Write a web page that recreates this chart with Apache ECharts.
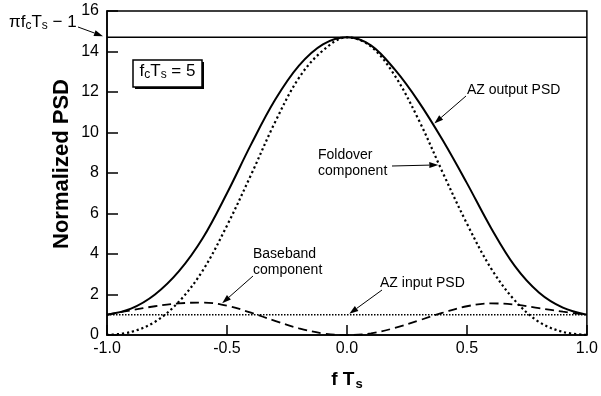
<!DOCTYPE html>
<html>
<head>
<meta charset="utf-8">
<script src="https://cdn.jsdelivr.net/npm/echarts@6/dist/echarts.min.js"></script>
<style>
  html, body { margin: 0; background: #fff; }
  #main { width: 601px; height: 396px; }
</style>
</head>
<body>
<div id="main"></div>
<script>
// f*Ts sample points
const fTs = [-1.0, -0.9, -0.8, -0.7, -0.6, -0.5, -0.4, -0.3, -0.2, -0.1, 0.0,
             0.1, 0.2, 0.3, 0.4, 0.5, 0.6, 0.7, 0.8, 0.9, 1.0];
// AZ output PSD (solid)
const outputPsd = [1.0, 1.3, 2.0, 3.15, 4.8, 7.0, 9.4, 11.6, 13.3, 14.35, 14.7,
                   14.3, 13.1, 11.5, 9.6, 7.5, 5.3, 3.4, 2.1, 1.35, 1.0];
// Foldover component (dotted)
const foldover = [0, 0.15, 0.65, 1.65, 3.2, 5.4, 7.9, 10.5, 12.7, 14.05, 14.7,
                  14.25, 12.8, 10.6, 8.0, 5.5, 3.3, 1.7, 0.65, 0.15, 0];
// Baseband component (dashed)
const baseband = [1.0, 1.22, 1.42, 1.56, 1.6, 1.45, 1.1, 0.7, 0.33, 0.08, 0,
                  0.08, 0.35, 0.72, 1.1, 1.42, 1.56, 1.5, 1.33, 1.15, 1.0];
// AZ input PSD (fine dotted, flat)
const inputX = [-1.0, 1.0];
const inputPsd = [1, 1];

const fcTs = 5;
const limitLevel = Math.PI * fcTs - 1;

const xTicks = [-1.0, -0.5, 0.0, 0.5, 1.0];
const yTicks = [0, 2, 4, 6, 8, 10, 12, 14, 16];

const FONT = 'Liberation Sans, Arial, Helvetica, sans-serif';
const pair = (xs, ys) => xs.map((x, i) => [x, ys[i]]);

const chart = echarts.init(document.getElementById('main'), null, { renderer: 'canvas' });

const option = {
  animation: false,
  grid: {
    left: 107, right: 10, top: 11, bottom: 60,
    show: true, borderColor: '#000', borderWidth: 1.5, backgroundColor: 'transparent'
  },
  xAxis: {
    type: 'value', min: xTicks[0], max: xTicks[xTicks.length - 1], interval: 0.5,
    axisLine: { onZero: false, lineStyle: { color: '#000', width: 1.5 } },
    axisTick: { inside: true, length: 10, lineStyle: { color: '#000', width: 1.5 } },
    splitLine: { show: false },
    axisLabel: { color: '#000', fontSize: 16, fontFamily: FONT, margin: 6,
      formatter: v => v.toFixed(1) },
    name: '{b|f T}{s|s}', nameLocation: 'middle', nameGap: 34,
    nameTextStyle: {
      rich: {
        b: { fontSize: 19, fontWeight: 'bold', fontFamily: FONT, color: '#000' },
        s: { fontSize: 13, fontWeight: 'bold', fontFamily: FONT, color: '#000', padding: [9, 0, 0, 1] }
      }
    }
  },
  yAxis: {
    type: 'value', min: yTicks[0], max: yTicks[yTicks.length - 1], interval: 2,
    axisLine: { onZero: false, lineStyle: { color: '#000', width: 1.5 } },
    axisTick: { inside: true, length: 11, lineStyle: { color: '#000', width: 1.5 } },
    splitLine: { show: false },
    axisLabel: { color: '#000', fontSize: 16, fontFamily: FONT, margin: 8 }
  },
  series: [
    {
      name: 'limit', type: 'line', symbol: 'none', silent: true,
      data: [[-1, limitLevel], [1, limitLevel]],
      lineStyle: { color: '#000', width: 1.5 }
    },
    {
      name: 'AZ input PSD', type: 'line', symbol: 'none',
      data: pair(inputX, inputPsd),
      lineStyle: { color: '#000', width: 1.5, type: [1.5, 1.5] }
    },
    {
      name: 'Baseband component', type: 'line', symbol: 'none', smooth: 0.4,
      data: pair(fTs, baseband),
      lineStyle: { color: '#000', width: 1.8, type: [9, 5] }
    },
    {
      name: 'Foldover component', type: 'line', symbol: 'none', smooth: 0.35,
      data: pair(fTs, foldover),
      lineStyle: { color: '#000', width: 2.2, type: [2.2, 2.8] }
    },
    {
      name: 'AZ output PSD', type: 'line', symbol: 'none', smooth: 0.35,
      data: pair(fTs, outputPsd),
      lineStyle: { color: '#000', width: 2 }
    }
  ]
};
chart.setOption(option);

function arrow(x1, y1, x2, y2) {
  const a = Math.atan2(y2 - y1, x2 - x1);
  const L = 9, W = 3;
  const bx = x2 - L * Math.cos(a), by = y2 - L * Math.sin(a);
  const nx = -Math.sin(a), ny = Math.cos(a);
  return [
    { type: 'line', shape: { x1: x1, y1: y1, x2: bx, y2: by }, style: { stroke: '#000', lineWidth: 1 } },
    { type: 'polygon', shape: { points: [[x2, y2], [bx + nx * W, by + ny * W], [bx - nx * W, by - ny * W]] },
      style: { fill: '#000' } }
  ];
}
const px = (x, y) => chart.convertToPixel({ gridIndex: 0 }, [x, y]);

const subRich = {
  n: { fontSize: 17, fontFamily: FONT, color: '#000' },
  s: { fontSize: 12, fontFamily: FONT, color: '#000', padding: [8, 0, 0, 0] }
};
const label = (x, y, text) => ({
  type: 'text', x: x, y: y,
  style: { text: text, fontSize: 14, fontFamily: FONT, fill: '#000', lineHeight: 16, verticalAlign: 'middle' }
});

const tipOut = px(0.36, 10.45);
const tipFold = px(0.385, 8.4);
const tipBase = px(-0.52, 1.52);
const tipIn = px(0.01, 1);
const tipLim = px(-1, limitLevel);

const graphics = [].concat(
  arrow(466, 96, tipOut[0] + 1, tipOut[1]),
  arrow(392, 166, tipFold[0] - 1, tipFold[1]),
  arrow(253, 276, tipBase[0], tipBase[1] - 1),
  arrow(382, 290, tipIn[0], tipIn[1] - 1),
  arrow(78, 27, tipLim[0] - 4, tipLim[1] - 1),
  [
    label(467, 90, 'AZ output PSD'),
    label(318, 163, 'Foldover\ncomponent'),
    label(253, 262, 'Baseband\ncomponent'),
    label(380, 283, 'AZ input PSD'),
    {
      type: 'text', x: 9, y: 22,
      style: { text: '{n|πf}{s|c}{n|T}{s|s}{n| − 1}', rich: subRich, verticalAlign: 'middle' }
    },
    { type: 'rect', shape: { x: 135, y: 62, width: 69, height: 27 }, style: { fill: '#000' } },
    { type: 'rect', shape: { x: 133, y: 60, width: 69, height: 27 },
      style: { fill: '#fff', stroke: '#000', lineWidth: 1.5 } },
    {
      type: 'text', x: 167.5, y: 71,
      style: { text: '{n|f}{s|c}{n|T}{s|s}{n| = 5}', rich: subRich, align: 'center', verticalAlign: 'middle' }
    },
    {
      type: 'text', x: 62, y: 164, rotation: Math.PI / 2,
      style: { text: 'Normalized PSD', fontSize: 22, fontWeight: 'bold', fontFamily: FONT, fill: '#000',
        align: 'center', verticalAlign: 'middle' }
    }
  ]
);
chart.setOption({ graphic: graphics });
</script>
</body>
</html>
